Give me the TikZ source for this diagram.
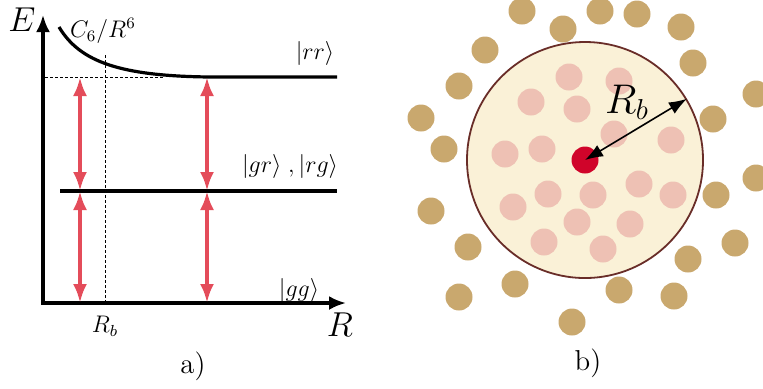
\documentclass[tikz,border=0pt]{standalone}
\usetikzlibrary{arrows.meta}
\definecolor{levelred}{RGB}{228,76,90}
\definecolor{atomtan}{RGB}{201,168,110}
\definecolor{atompink}{RGB}{238,193,180}
\definecolor{blockfill}{RGB}{250,241,215}
\definecolor{blockedge}{RGB}{105,45,40}
\definecolor{corered}{RGB}{208,4,42}
\begin{document}
\begin{tikzpicture}[x=0.5pt, y=-0.5pt,
  axis/.style={line width=1.6pt, {Latex[length=8.5pt,width=7pt]}-{Latex[length=8.5pt,width=7pt]}},
  level/.style={line width=1.6pt},
  guide/.style={line width=0.5pt, dash pattern=on 1.5pt off 1pt},
  trans/.style={line width=2pt, levelred,
                {Latex[length=9.5pt,width=7pt]}-{Latex[length=9.5pt,width=7pt]}},
  lab/.style={inner sep=0pt, font=\large},
  outer/.style={circle, fill=atomtan, minimum size=13.5pt, inner sep=0pt},
  inner/.style={circle, fill=atompink, minimum size=13.5pt, inner sep=0pt},
  rbarr/.style={line width=0.8pt, {Latex[length=9pt,width=6.5pt]}-{Latex[length=9pt,width=6.5pt]}}
]
  \useasboundingbox (0,0) rectangle (763,388);

  % a) niveaux
  \coordinate (etop) at (43,15);
  \coordinate (rend) at (346,303);
  \draw[axis] (etop) |- (rend);
  \node[font=\fontsize{16}{18}\selectfont] (elab) at (22,20) {$E$};
  \node[font=\fontsize{16}{18}\selectfont] (rlab) at (340,325) {$R$};

  \coordinate (dl) at (45,77);
  \coordinate (dr) at (165,77);
  \coordinate (vt) at (105,55);
  \coordinate (vb) at (105,303);
  \draw[guide] (dl) -- (dr);
  \draw[guide] (vt) -- (vb);

  \coordinate (rr0) at (59,27);
  \coordinate (rr1) at (210,77);
  \coordinate (rr2) at (337,77);
  \draw[level] (rr0) .. controls (80,62) and (120,76) .. (rr1) -- (rr2);
  \coordinate (gr0) at (60,191);
  \coordinate (gr1) at (337,191);
  \draw[level] (gr0) -- (gr1);

  \foreach \x [count=\i] in {80,207} {
    \coordinate (t\i) at (\x,77);
    \coordinate (m\i) at (\x,191);
    \coordinate (b\i) at (\x,303);
    \draw[trans] (t\i) -- (m\i);
    \draw[trans] (m\i) -- (b\i);
  }

  \node[lab] (lc6) at (103,31) {$C_6/R^6$};
  \node[lab] (lrr) at (315,53) {$|rr\rangle$};
  \node[lab] (lgr) at (290,166) {$|gr\rangle\;,|rg\rangle$};
  \node[lab] (lgg) at (299,290) {$|gg\rangle$};
  \node[lab] (lrb) at (105,326) {$R_b$};
  \node[font=\Large] (capa) at (193,366) {a)};

  % b) blocage
  \foreach \x/\y [count=\i] in {522/11, 563/29, 600/11, 637/14, 681/27, 693/63,
      485/50, 459/86, 421/118, 444/149, 756/94, 713/119, 756/178, 716/195,
      431/211, 468/247, 459/297, 515/284, 572/322, 619/290, 674/296,
      688/259, 735/243} {
    \node[outer] (o\i) at (\x,\y) {};
  }
  \node[circle, draw=blockedge, line width=0.9pt, fill=blockfill,
        minimum size=118pt, inner sep=0pt] (blockade) at (585,160) {};
  \foreach \x/\y [count=\i] in {569/77, 619/81, 531/102, 577/109, 614/134,
      505/154, 542/149, 671/140, 548/194, 593/195, 639/184, 673/195,
      513/207, 577/222, 630/224, 544/242, 603/249} {
    \node[inner] (p\i) at (\x,\y) {};
  }
  \node[circle, fill=corered, minimum size=13.5pt, inner sep=0pt] (core) at (585,160) {};
  \draw[rbarr] (core.center) -- (blockade.31.4);
  \node[font=\huge] (rblab) at (627,102) {$R_b$};
  \node[font=\Large] (capb) at (588,363) {b)};
\end{tikzpicture}
\end{document}
